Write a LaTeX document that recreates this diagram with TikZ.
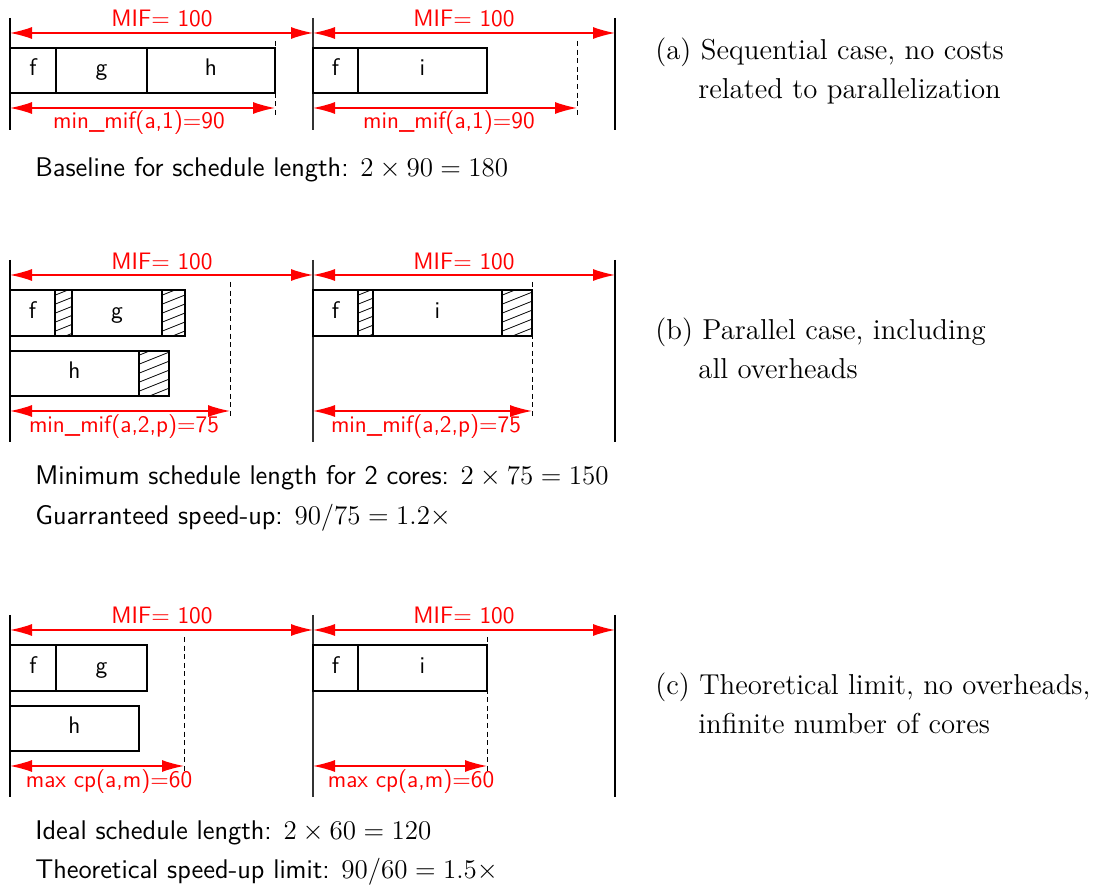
\RequirePackage{fix-cm}
\documentclass[tikz,border=0pt]{standalone}
\usetikzlibrary{arrows.meta,fit}
\newcommand\taskbox[6]{\node[task, fit={(#2,#3) (#4,#5)}, label={[tasktext]center:#6}] (#1) {};}
\newcommand\hatchbox[5]{%
  \node[task, fit={(#2,#3) (#4,#5)}] (#1) {};
  \begin{scope}
    \clip (#2,#3) rectangle (#4,#5);
    \foreach \k in {0,...,9} \draw[hatchline] (#2-2,#5+14-\k*9) -- ++(44,-17.6);
  \end{scope}}
\begin{document}
\begin{tikzpicture}[x=0.5pt,y=-0.5pt,
  font=\fontsize{13.5}{16}\selectfont,
  task/.style={draw, line width=0.6pt, inner sep=0pt},
  tasktext/.style={font=\fontsize{12}{14}\selectfont\sffamily, inner sep=0pt, text height=1.6ex, text depth=0.4ex},
  hatchline/.style={line width=0.4pt},
  thickbar/.style={line width=1.4pt},
  thinbar/.style={line width=0.6pt, black!80},
  dashline/.style={line width=0.5pt, dash pattern=on 2.5pt off 1.8pt},
  dim/.style={red, line width=0.7pt, {Latex[length=11pt,width=6pt]}-{Latex[length=11pt,width=6pt]}},
  dimlabel/.style={red, font=\fontsize{11.9}{14}\selectfont\sffamily, inner sep=0pt},
  note/.style={font=\fontsize{13.5}{16}\selectfont\sffamily, anchor=base west, inner sep=0pt},
  caption/.style={font=\fontsize{14.4}{17}\selectfont\rmfamily, anchor=base west, inner sep=0pt}]
\useasboundingbox (0,0) rectangle (1104,886);

% ================= (a) =================
\coordinate (aL1) at (10,18);  \coordinate (aL2) at (10,130);
\coordinate (aM1) at (313,18); \coordinate (aM2) at (313,130);
\coordinate (aR1) at (615,18); \coordinate (aR2) at (615,130);
\draw[thickbar] (aL1) -- (aL2);
\draw[thinbar] (aM1) -- (aM2);
\draw[thickbar] (aR1) -- (aR2);
\coordinate (aA0) at (10,33); \coordinate (aA1) at (313,33); \coordinate (aA2) at (615,33);
\draw[dim] (aA0) -- (aA1);
\draw[dim] (aA1) -- (aA2);
\node[dimlabel] (aMIF1) at (162,19) {MIF$=$ 100};
\node[dimlabel] (aMIF2) at (464,19) {MIF$=$ 100};
\taskbox{af}{10}{48}{56}{93}{f}
\taskbox{ag}{56}{48}{147}{93}{g}
\taskbox{ah}{147}{48}{275}{93}{h}
\taskbox{af2}{313}{48}{358}{93}{f}
\taskbox{ai}{358}{48}{487}{93}{i}
\coordinate (aD1t) at (275,41); \coordinate (aD1b) at (275,116);
\coordinate (aD2t) at (577,41); \coordinate (aD2b) at (577,116);
\draw[dashline] (aD1t) -- (aD1b);
\draw[dashline] (aD2t) -- (aD2b);
\coordinate (aB0) at (10,108); \coordinate (aB1) at (275,108);
\coordinate (aB2) at (313,108); \coordinate (aB3) at (577,108);
\draw[dim] (aB0) -- (aB1);
\draw[dim] (aB2) -- (aB3);
\node[dimlabel] (amin1) at (139,123) {min\_mif(a,1)$=$90};
\node[dimlabel] (amin2) at (449,123) {min\_mif(a,1)$=$90};
\node[note] (anote) at (35,177) {Baseline for schedule length: $2\times 90=180$};
\node[caption] (acap1) at (655,60) {(a) Sequential case, no costs};
\node[caption] (acap2) at (698,99) {related to parallelization};

% ================= (b) =================
\coordinate (bL1) at (10,260);  \coordinate (bL2) at (10,442);
\coordinate (bM1) at (313,260); \coordinate (bM2) at (313,442);
\coordinate (bR1) at (615,260); \coordinate (bR2) at (615,442);
\draw[thickbar] (bL1) -- (bL2);
\draw[thinbar] (bM1) -- (bM2);
\draw[thickbar] (bR1) -- (bR2);
\coordinate (bA0) at (10,275); \coordinate (bA1) at (313,275); \coordinate (bA2) at (615,275);
\draw[dim] (bA0) -- (bA1);
\draw[dim] (bA1) -- (bA2);
\node[dimlabel] (bMIF1) at (162,261) {MIF$=$ 100};
\node[dimlabel] (bMIF2) at (464,261) {MIF$=$ 100};
\taskbox{bf}{10}{290}{55}{336}{f}
\hatchbox{bh1}{55}{290}{72}{336}
\taskbox{bg}{72}{290}{162}{336}{g}
\hatchbox{bh2}{162}{290}{185}{336}
\taskbox{bh}{10}{351}{139}{396}{h}
\hatchbox{bh3}{139}{351}{169}{396}
\taskbox{bf2}{313}{290}{358}{336}{f}
\hatchbox{bh4}{358}{290}{373}{336}
\taskbox{bi}{373}{290}{502}{336}{i}
\hatchbox{bh5}{502}{290}{532}{336}
\coordinate (bD1t) at (230,282); \coordinate (bD1b) at (230,418);
\coordinate (bD2t) at (532,282); \coordinate (bD2b) at (532,418);
\draw[dashline] (bD1t) -- (bD1b);
\draw[dashline] (bD2t) -- (bD2b);
\coordinate (bB0) at (10,411); \coordinate (bB1) at (230,411);
\coordinate (bB2) at (313,411); \coordinate (bB3) at (532,411);
\draw[dim] (bB0) -- (bB1);
\draw[dim] (bB2) -- (bB3);
\node[dimlabel] (bmin1) at (124,427) {min\_mif(a,2,p)$=$75};
\node[dimlabel] (bmin2) at (426,427) {min\_mif(a,2,p)$=$75};
\node[note] (bnote1) at (35,485) {Minimum schedule length for 2 cores: $2\times 75=150$};
\node[note] (bnote2) at (35,525) {Guarranteed speed-up: $90/75=1.2\times$};
\node[caption] (bcap1) at (655,340) {(b) Parallel case, including};
\node[caption] (bcap2) at (698,379) {all overheads};

% ================= (c) =================
\coordinate (cL1) at (10,615);  \coordinate (cL2) at (10,797);
\coordinate (cM1) at (313,615); \coordinate (cM2) at (313,797);
\coordinate (cR1) at (615,615); \coordinate (cR2) at (615,797);
\draw[thickbar] (cL1) -- (cL2);
\draw[thinbar] (cM1) -- (cM2);
\draw[thickbar] (cR1) -- (cR2);
\coordinate (cA0) at (10,630); \coordinate (cA1) at (313,630); \coordinate (cA2) at (615,630);
\draw[dim] (cA0) -- (cA1);
\draw[dim] (cA1) -- (cA2);
\node[dimlabel] (cMIF1) at (162,615) {MIF$=$ 100};
\node[dimlabel] (cMIF2) at (464,615) {MIF$=$ 100};
\taskbox{cf}{10}{645}{56}{691}{f}
\taskbox{cg}{56}{645}{147}{691}{g}
\taskbox{ch}{10}{706}{139}{751}{h}
\taskbox{cf2}{313}{645}{358}{691}{f}
\taskbox{ci}{358}{645}{487}{691}{i}
\coordinate (cD1t) at (184,637); \coordinate (cD1b) at (184,773);
\coordinate (cD2t) at (487,637); \coordinate (cD2b) at (487,773);
\draw[dashline] (cD1t) -- (cD1b);
\draw[dashline] (cD2t) -- (cD2b);
\coordinate (cB0) at (10,766); \coordinate (cB1) at (184,766);
\coordinate (cB2) at (313,766); \coordinate (cB3) at (487,766);
\draw[dim] (cB0) -- (cB1);
\draw[dim] (cB2) -- (cB3);
\node[dimlabel] (cmax1) at (109,782) {max cp(a,m)$=$60};
\node[dimlabel] (cmax2) at (411,782) {max cp(a,m)$=$60};
\node[note] (cnote1) at (35,840) {Ideal schedule length: $2\times 60=120$};
\node[note] (cnote2) at (35,879) {Theoretical speed-up limit: $90/60=1.5\times$};
\node[caption] (ccap1) at (655,695) {(c) Theoretical limit, no overheads,};
\node[caption] (ccap2) at (698,734) {infinite number of cores};
\end{tikzpicture}
\end{document}
